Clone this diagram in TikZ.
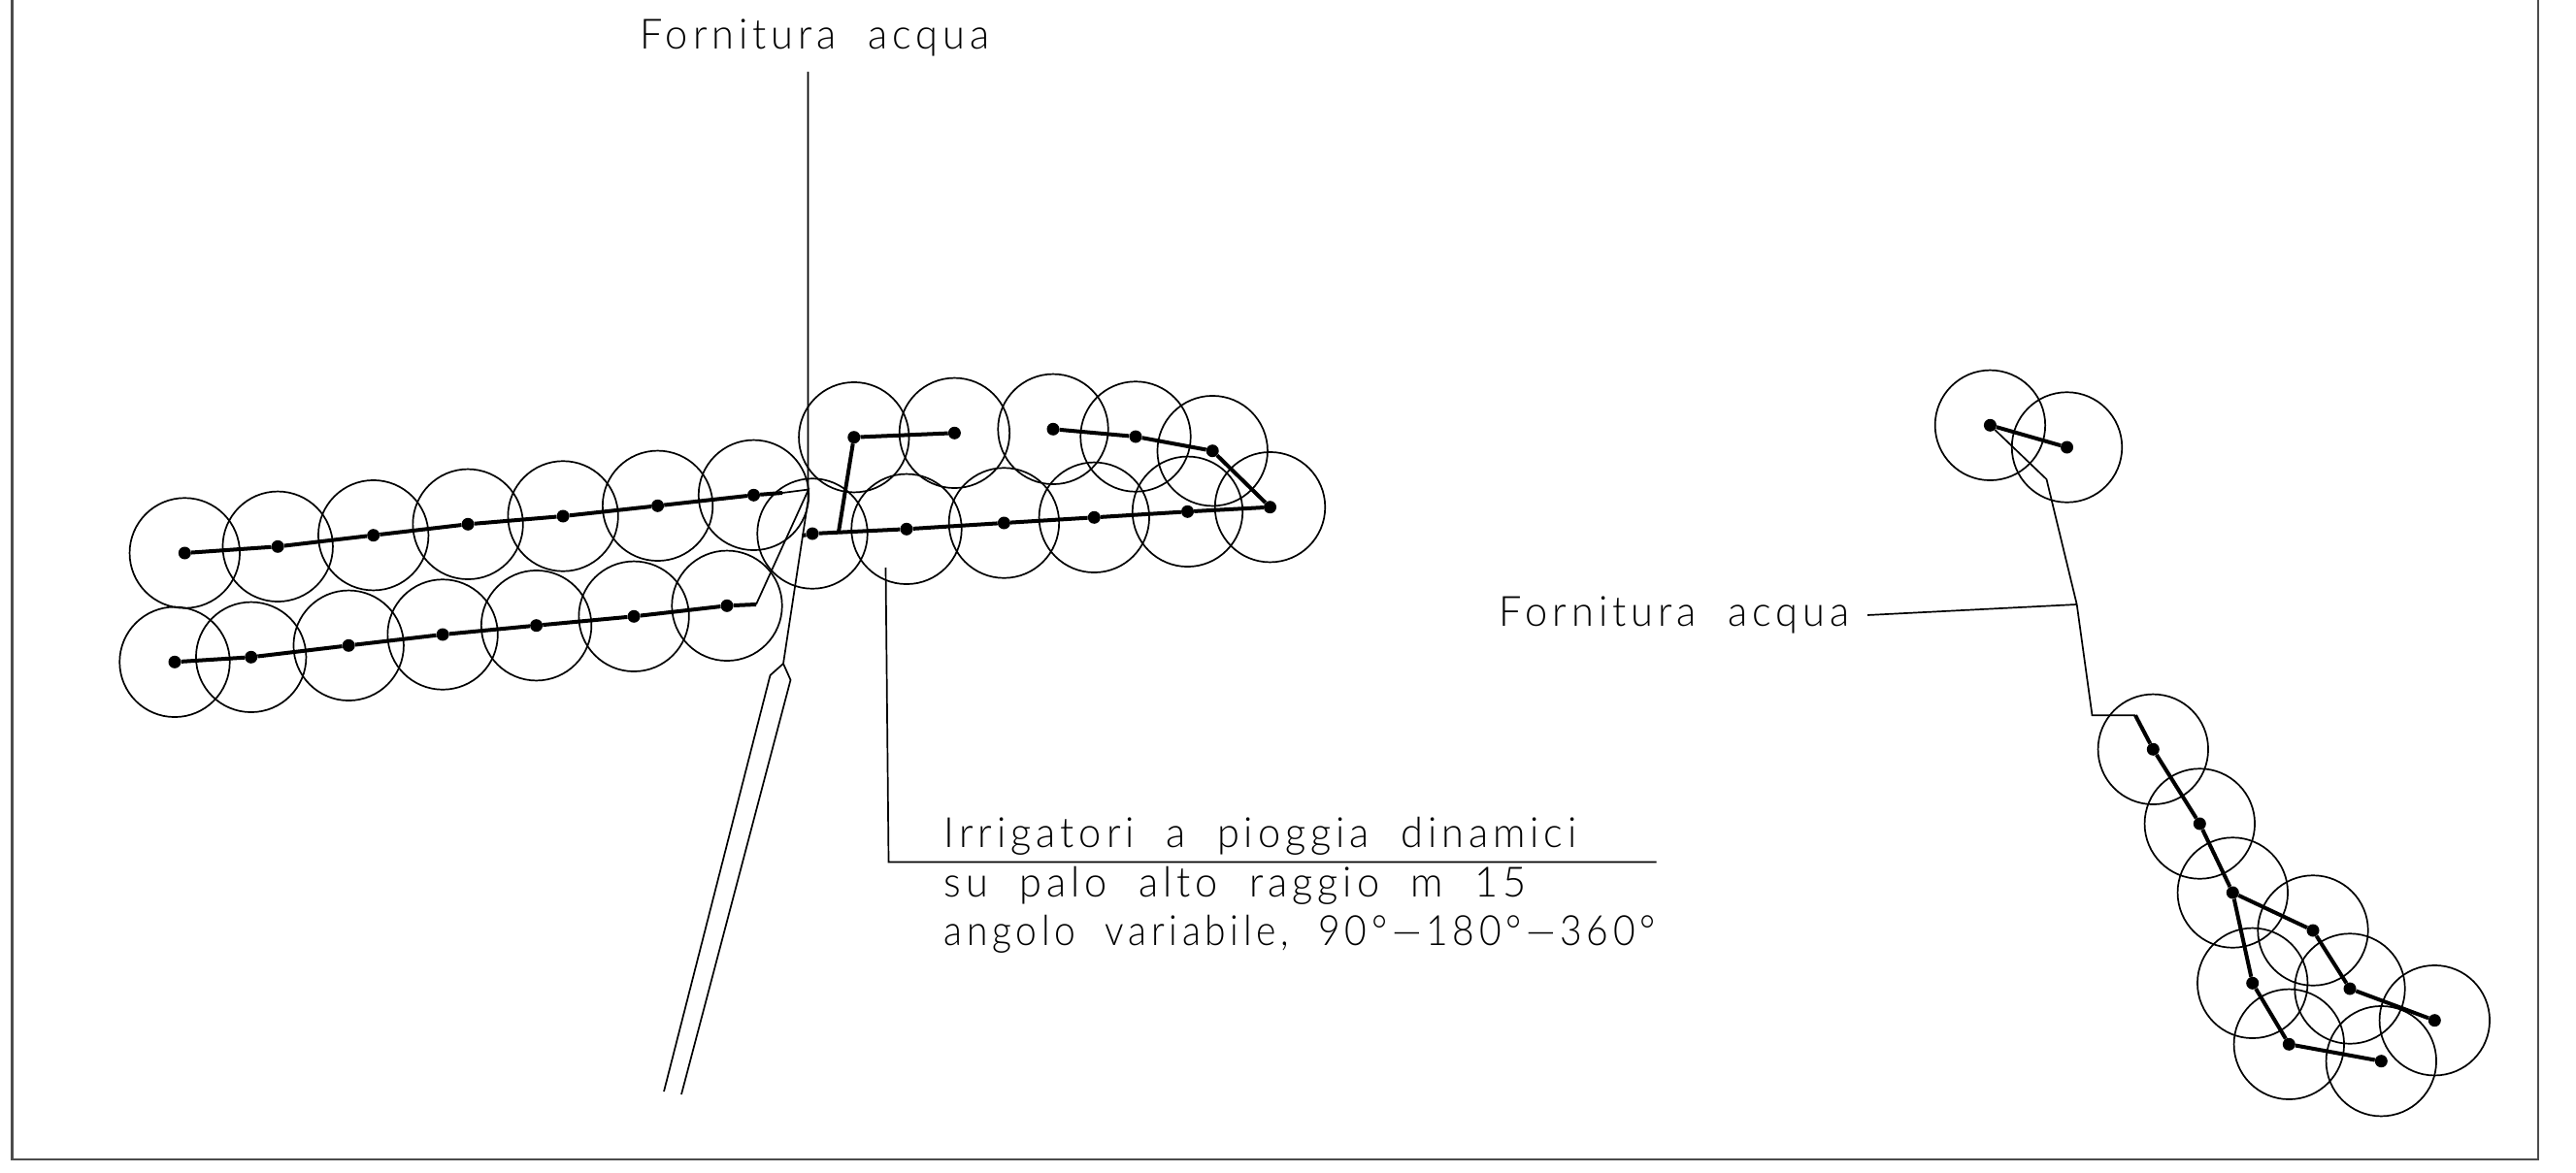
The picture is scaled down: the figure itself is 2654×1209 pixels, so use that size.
\documentclass[tikz,border=0pt]{standalone}
\usepackage{fontspec}
\usepackage{tikz}
\setmainfont{Lato}[UprightFont=* Light,WordSpace=2.0,LetterSpace=12]

\tikzset{
    reach/.style={circle,draw,line width=1.7pt,minimum size=113.5pt,inner sep=0pt},
    head/.style={circle,fill=black,minimum size=13pt,inner sep=0pt},
    pipe/.style={line width=4pt},
    thin line/.style={line width=1.7pt},
    label text/.style={anchor=base west,inner sep=0pt,font=\fontsize{43}{50}\selectfont,xscale=0.965,transform shape},
}

\begin{document}
\begin{tikzpicture}[x=1pt,y=-1pt]
        \useasboundingbox (0,0) rectangle (2654,1209);
        % frame
        \draw[line width=2.5pt,black!70] (12.5,-5) -- (12.5,1195) -- (2615,1195) -- (2615,-5);

        % sprinklers
        \foreach \nm/\px/\py in {a1/190.3/570,a2/286.2/563.3,a3/384.7/551.7,a4/482.1/540.3,a5/580.1/532,a6/677.6/521.3,a7/776.5/510.3,
            b1/180/682.3,b2/258.7/677.3,b3/359.2/665.3,b4/456.1/654,b5/552.6/644.7,b6/653.1/635.3,b7/749/624.3,
            c1/879.8/450.7,c2/983.4/446.3,c3/1085/442.3,c4/1170/450,c5/1249.2/464.7,c6/1308.5/522.7,
            d1/837/550,d2/934/545.3,d3/1034.4/539,d4/1127.3/533.3,d5/1223.5/527.3,
            e1/2050.4/438.3,e2/2129.5/461,
            f1/2218.3/772.3,f2/2266.3/849,f3/2300.3/920,f4/2383/959,f5/2421/1019,f6/2508.3/1051.7,
            f7/2320.7/1013.3,f8/2358.3/1076.3,f9/2453.3/1093.7} {
            \node[head] (\nm) at (\px,\py) {};
            \node[reach] (r\nm) at (\nm) {};
        }

        % free ends of the lines
        \coordinate (aend) at (806,508);
        \coordinate (join) at (833,504.5);
        \coordinate (bend) at (779,623);
        \coordinate (dend) at (826.7,552);
        \coordinate (dtee) at (864,548.3);
        \coordinate (mtop) at (832.5,74);
        \coordinate (mbend) at (832.5,516);
        \coordinate (ptip) at (807,684);
        \coordinate (pleft) at (793.5,696);
        \coordinate (pright) at (814.5,700.8);
        \coordinate (pleftb) at (684,1125);
        \coordinate (prightb) at (702,1128);
        \coordinate (ltop) at (912.5,585);
        \coordinate (lcorner) at (915.5,888.5);
        \coordinate (lright) at (1706.5,888.5);
        \coordinate (sbend) at (2108.5,494);
        \coordinate (stee) at (2139.7,623);
        \coordinate (slow) at (2155.5,737.3);
        \coordinate (sjoin) at (2200,737.3);
        \coordinate (send) at (1924,634);

        % thick pipes
        \draw[pipe] (a1) -- (a2) -- (a3) -- (a4) -- (a5) -- (a6) -- (a7) -- (aend);
        \draw[pipe] (b1) -- (b2) -- (b3) -- (b4) -- (b5) -- (b6) -- (b7) -- (bend);
        \draw[pipe] (dend) -- (d1) -- (d2) -- (d3) -- (d4) -- (d5) -- (c6) -- (c5) -- (c4) -- (c3);
        \draw[pipe] (dtee) -- (c1) -- (c2);
        \draw[pipe] (e1) -- (e2);
        \draw[pipe] (sjoin) -- (f1) -- (f2) -- (f3) -- (f4) -- (f5) -- (f6);
        \draw[pipe] (f3) -- (f7) -- (f8) -- (f9);

        % thin lines
        \draw[thin line] (aend) -- (join) -- (bend);
        \draw[thin line] (mtop) -- (mbend) -- (ptip) -- (pleft) -- (pleftb);
        \draw[thin line] (ptip) -- (pright) -- (prightb);
        \draw[thin line] (ltop) -- (lcorner) -- (lright);
        \draw[thin line] (e1) -- (sbend) -- (stee) -- (slow) -- (sjoin);
        \draw[thin line] (send) -- (stee);

        % labels
        \node[label text] (supplyleft) at (659,51) {Fornitura acqua};
        \node[label text] (supplyright) at (1544.5,645) {Fornitura acqua};
        \node[label text] (spraya) at (972.5,873.5) {Irrigatori a pioggia dinamici};
        \node[label text] (sprayb) at (972.5,924.5) {su palo alto raggio m 15};
        \node[label text,xscale=0.94] (sprayc) at (972.5,974) {angolo variabile, 90°---180°---360°};
    \end{tikzpicture}
\end{document}
